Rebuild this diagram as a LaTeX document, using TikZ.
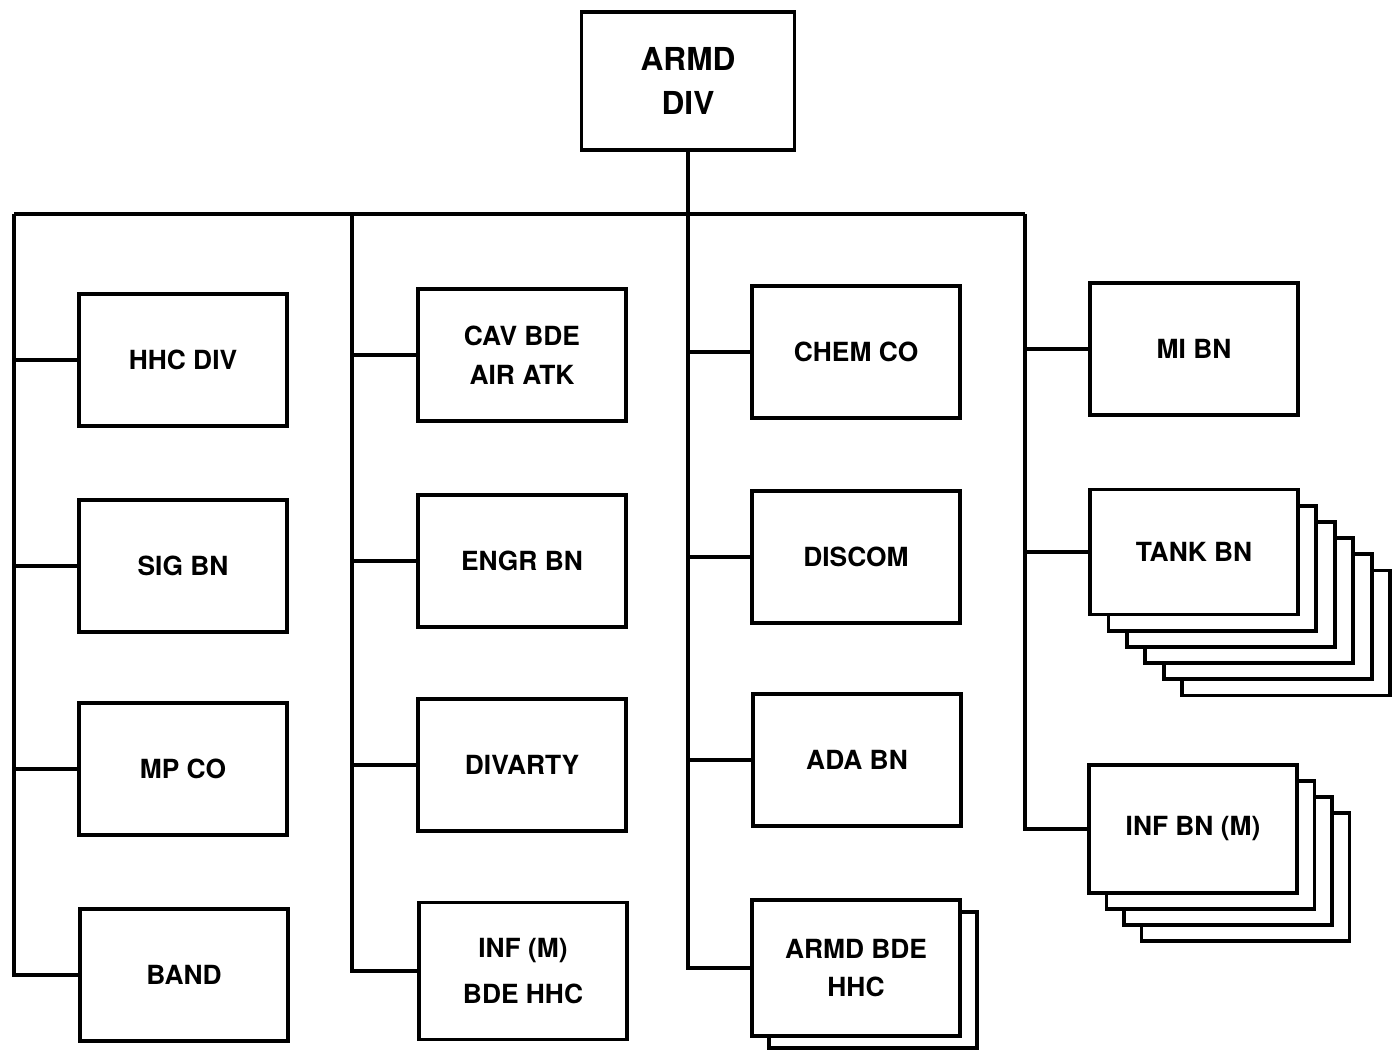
\documentclass[tikz,border=0pt]{standalone}
\usepackage{fontspec}
\setmainfont{TeX Gyre Heros}
\usetikzlibrary{positioning}

\tikzset{
  unit/.style={draw, line width=2.2pt, fill=white, minimum width=4.16cm,
    minimum height=2.64cm, align=center, inner sep=0pt,
    font=\bfseries\fontsize{15}{22}\selectfont},
  link/.style={line width=1.8pt}
}

\begin{document}
\begin{tikzpicture}[x=0.02cm, y=-0.02cm]
  \useasboundingbox (0, 0) rectangle (1399, 1051);

  % Division headquarters
  \node[unit, minimum width=4.26cm, minimum height=2.76cm,
        font=\bfseries\fontsize{18}{25}\selectfont] (div) at (688, 81) {ARMD\\DIV};

  % Bus and spines
  \coordinate (bus1) at (14, 214);
  \coordinate (bus2) at (352, 214);
  \coordinate (bus4) at (1025, 214);

  % Column one
  \node[unit] (hhc)  at (183, 360) {HHC DIV};
  \node[unit] (sig)  at (183, 566) {SIG BN};
  \node[unit] (mp)   at (183, 769) {MP CO};
  \node[unit] (band) at (184, 975) {BAND};

  % Column two
  \node[unit] (cav)     at (522, 355) {CAV BDE\\AIR ATK};
  \node[unit] (engr)    at (522, 561) {ENGR BN};
  \node[unit] (divarty) at (522, 765) {DIVARTY};
  \node[unit, minimum height=2.74cm] (infbde) at (523, 971) {INF (M)\\[4pt]BDE HHC};

  % Column three
  \node[unit] (chem)   at (856, 352) {CHEM CO};
  \node[unit] (discom) at (856, 557) {DISCOM};
  \node[unit] (ada)    at (857, 760) {ADA BN};
  \node[unit, minimum height=2.72cm] at (873, 980) {};
  \node[unit, minimum height=2.72cm] (armdbde) at (856, 968) {ARMD BDE\\HHC};

  % Column four
  \node[unit] (mi) at (1194, 349) {MI BN};
  \foreach \k in {5, 4, ..., 1} {
    \node[unit, minimum height=2.5cm] at (1194 + \k * 18.4, 552 + \k * 16.2) {};
  }
  \node[unit, minimum height=2.5cm] (tank) at (1194, 552) {TANK BN};
  \foreach \k in {3, 2, 1} {
    \node[unit, minimum height=2.56cm] at (1193 + \k * 17.5, 829 + \k * 16) {};
  }
  \node[unit, minimum height=2.56cm] (infbn) at (1193, 829) {INF BN (M)};

  % Connectors
  \draw[link] (bus1) -- (bus4);
  \draw[link] (div.south) |- (armdbde.west);
  \draw[link] (bus1) |- (band.west);
  \draw[link] (bus2) |- (infbde.west);
  \draw[link] (bus4) |- (infbn.west);

  \foreach \n in {hhc, sig, mp} {
    \draw[link] (\n.west) -- (\n.west -| bus1);
  }
  \foreach \n in {cav, engr, divarty} {
    \draw[link] (\n.west) -- (\n.west -| bus2);
  }
  \foreach \n in {chem, discom, ada} {
    \draw[link] (\n.west) -- (\n.west -| div.south);
  }
  \foreach \n in {mi, tank} {
    \draw[link] (\n.west) -- (\n.west -| bus4);
  }
\end{tikzpicture}
\end{document}
